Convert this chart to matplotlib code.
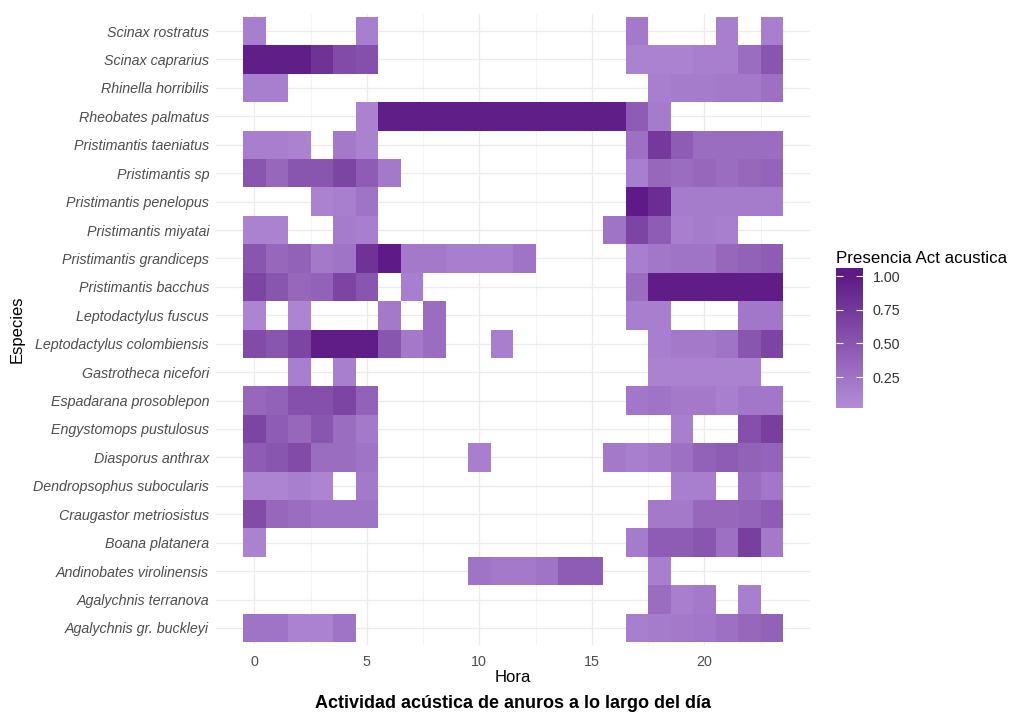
import numpy as np
import matplotlib
matplotlib.use('Agg')
import matplotlib.pyplot as plt
from matplotlib.colors import ListedColormap, Normalize, to_rgb

plt.rcParams['font.family'] = ['Liberation Sans', 'DejaVu Sans']

_ = None
horas = list(range(24))
especies = [
    'Scinax rostratus', 'Scinax caprarius', 'Rhinella horribilis', 'Rheobates palmatus',
    'Pristimantis taeniatus', 'Pristimantis sp', 'Pristimantis penelopus', 'Pristimantis miyatai',
    'Pristimantis grandiceps', 'Pristimantis bacchus', 'Leptodactylus fuscus',
    'Leptodactylus colombiensis', 'Gastrotheca nicefori', 'Espadarana prosoblepon',
    'Engystomops pustulosus', 'Diasporus anthrax', 'Dendropsophus subocularis',
    'Craugastor metriosistus', 'Boana platanera', 'Andinobates virolinensis',
    'Agalychnis terranova', 'Agalychnis gr. buckleyi',
]

# presencia por hora (0..23), None = sin registro
presencia = [
    [.15, _, _, _, _, .15, _, _, _, _, _, _, _, _, _, _, _, .2, _, _, _, .15, _, .15],
    [.97, .97, .97, .8, .6, .55, _, _, _, _, _, _, _, _, _, _, _, .12, .12, .12, .15, .15, .3, .5],
    [.15, .15, _, _, _, _, _, _, _, _, _, _, _, _, _, _, _, _, .15, .18, .18, .2, .2, .28],
    [_, _, _, _, _, .12, .97, .97, .97, .97, .97, .97, .97, .97, .97, .97, .97, .45, .18, _, _, _, _, _],
    [.15, .15, .12, _, .2, .12, _, _, _, _, _, _, _, _, _, _, _, .28, .75, .45, .3, .3, .3, .3],
    [.5, .35, .5, .5, .65, .45, .2, _, _, _, _, _, _, _, _, _, _, .15, .35, .3, .35, .3, .35, .38],
    [_, _, _, .12, .15, .25, _, _, _, _, _, _, _, _, _, _, _, 1.0, .85, .18, .18, .18, .18, .18],
    [.12, .12, _, _, .18, .15, _, _, _, _, _, _, _, _, _, _, .25, .65, .45, .15, .18, .15, _, _],
    [.5, .35, .4, .2, .25, .8, 1.0, .2, .2, .15, .15, .15, .25, _, _, _, _, .15, .22, .25, .25, .35, .4, .45],
    [.65, .5, .35, .4, .65, .5, _, .15, _, _, _, _, _, _, _, _, _, .3, .98, .98, .98, .98, .98, .98],
    [.1, _, .1, _, _, _, .2, _, .3, _, _, _, _, _, _, _, _, .15, .15, _, _, _, .22, .22],
    [.6, .5, .65, .98, .98, .98, .5, .2, .3, _, _, .15, _, _, _, _, _, _, .15, .2, .2, .25, .5, .65],
    [_, _, .15, _, .15, _, _, _, _, _, _, _, _, _, _, _, _, _, .12, .12, .12, .12, .12, _],
    [.35, .4, .55, .55, .65, .4, _, _, _, _, _, _, _, _, _, _, _, .22, .25, .2, .2, .15, .22, .22],
    [.65, .45, .35, .5, .3, .2, _, _, _, _, _, _, _, _, _, _, _, _, _, .15, _, _, .55, .7],
    [.45, .5, .6, .3, .3, .25, _, _, _, _, .15, _, _, _, _, _, .2, .15, .2, .28, .4, .45, .4, .38],
    [.1, .1, .15, .1, _, .2, _, _, _, _, _, _, _, _, _, _, _, _, _, .15, .15, _, .3, .22],
    [.6, .35, .3, .25, .25, .25, _, _, _, _, _, _, _, _, _, _, _, _, .2, .2, .35, .35, .38, .45],
    [.12, _, _, _, _, _, _, _, _, _, _, _, _, _, _, _, _, .18, .45, .45, .5, .28, .7, .2],
    [_, _, _, _, _, _, _, _, _, _, .25, .2, .2, .25, .45, .45, _, _, .15, _, _, _, _, _],
    [_, _, _, _, _, _, _, _, _, _, _, _, _, _, _, _, _, _, .3, .15, .2, _, .15, _],
    [.25, .25, .12, .12, .25, _, _, _, _, _, _, _, _, _, _, _, _, .15, .18, .2, .22, .28, .35, .4],
]


# gradiente interpolado en CIELAB (como scale_fill_gradient de ggplot)
M = np.array([[0.4124, 0.3576, 0.1805], [0.2126, 0.7152, 0.0722], [0.0193, 0.1192, 0.9505]])
WHITE = np.array([0.95047, 1.0, 1.08883])


def rgb_to_lab(c):
    c = np.array(c)
    lin = np.where(c <= 0.04045, c / 12.92, ((c + 0.055) / 1.055) ** 2.4)
    xyz = M @ lin / WHITE
    f = np.where(xyz > 216 / 24389, np.cbrt(xyz), (24389 / 27 * xyz + 16) / 116)
    return np.array([116 * f[1] - 16, 500 * (f[0] - f[1]), 200 * (f[1] - f[2])])


def lab_to_rgb(lab):
    fy = (lab[0] + 16) / 116
    fx = fy + lab[1] / 500
    fz = fy - lab[2] / 200
    f = np.array([fx, fy, fz])
    xyz = np.where(f ** 3 > 216 / 24389, f ** 3, (116 * f - 16) / (24389 / 27)) * WHITE
    lin = np.linalg.solve(M, xyz)
    c = np.where(lin <= 0.0031308, 12.92 * lin, 1.055 * np.abs(lin) ** (1 / 2.4) - 0.055)
    return np.clip(c, 0, 1)


lab_lo = rgb_to_lab(to_rgb('#B28CD8'))
lab_hi = rgb_to_lab(to_rgb('#5E1A86'))
cmap = ListedColormap([lab_to_rgb(lab_lo + t * (lab_hi - lab_lo)) for t in np.linspace(0, 1, 256)])
norm = Normalize(vmin=0.03, vmax=1.0, clip=True)

Z = np.array([[np.nan if v is None else v for v in fila] for fila in presencia])
Z = np.ma.masked_invalid(Z)

fig = plt.figure(figsize=(10.12, 7.13), dpi=100)
ax = fig.add_axes([216 / 1012, 1 - 645 / 713, 594 / 1012, 631 / 713])

x_edges = np.arange(-0.5, 24.5, 1)
y_edges = np.arange(-0.5, len(especies) + 0.5, 1)
ax.pcolormesh(x_edges, y_edges, Z, cmap=cmap, norm=norm, zorder=2)

ax.set_xlim(-1.7, 24.7)
ax.set_ylim(len(especies) - 0.4, -0.6)
ax.set_xticks([0, 5, 10, 15, 20])
ax.set_xticks([2.5, 7.5, 12.5, 17.5, 22.5], minor=True)
ax.set_yticks(range(len(especies)))
ax.set_yticklabels(especies, style='italic')
ax.grid(True, which='major', color='#EBEBEB', lw=0.9, zorder=0)
ax.grid(True, which='minor', axis='x', color='#F2F2F2', lw=0.6, zorder=0)
ax.tick_params(which='both', length=0, labelsize=10.3, colors='#4D4D4D')
ax.tick_params(axis='x', pad=7)
ax.tick_params(axis='y', pad=5)
for s in ax.spines.values():
    s.set_visible(False)
ax.set_axisbelow(True)

ax.set_xlabel('Hora', fontsize=12, labelpad=1)
ax.set_ylabel('Especies', fontsize=12, labelpad=6)
fig.text(513 / 1012, 1 - 703 / 713, 'Actividad acústica de anuros a lo largo del día',
         ha='center', va='center', fontsize=13, fontweight='bold')

# leyenda
cax = fig.add_axes([836 / 1012, 1 - 408 / 713, 27 / 1012, 140 / 713])
grad = np.linspace(0.02, 1.06, 300).reshape(-1, 1)
cax.imshow(grad, cmap=cmap, norm=norm, aspect='auto', origin='lower',
           extent=[0, 1, 0.02, 1.06])
cax.set_xlim(0, 1)
cax.set_ylim(0.02, 1.06)
cax.set_xticks([])
cax.set_yticks([0.25, 0.5, 0.75, 1.0])
cax.set_yticklabels(['0.25', '0.50', '0.75', '1.00'])
cax.yaxis.tick_right()
cax.tick_params(axis='y', direction='in', color='white', length=5, width=0.8, left=True, right=True,
                labelsize=10.3, labelcolor='#333333', pad=7)
for s in cax.spines.values():
    s.set_visible(False)
fig.text(836 / 1012, 1 - 258 / 713, 'Presencia Act acustica', ha='left', va='center', fontsize=12.2)

fig.savefig('out.png', dpi=100, facecolor='white')
